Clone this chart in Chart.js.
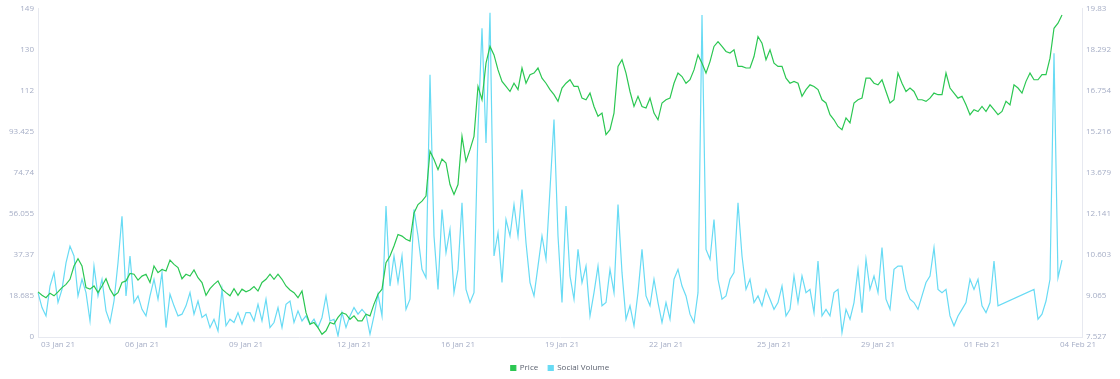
<!DOCTYPE html>
<html>
<head>
<meta charset="utf-8">
<script src="https://cdn.jsdelivr.net/npm/chart.js@4"></script>
<style>
  html, body { margin: 0; padding: 0; background: #fff; }
  canvas { display: block; }
</style>
</head>
<body>
<canvas id="chart" width="1120" height="379"></canvas>
<script>
/* ==============================
   DATA
============================== */

// x axis: one slot per sample, a few spare slots after the last one
const slotCount = 262;
const tickLabels = ["03 Jan 21", "06 Jan 21", "09 Jan 21", "12 Jan 21", "16 Jan 21", "19 Jan 21",
                    "22 Jan 21", "25 Jan 21", "29 Jan 21", "01 Feb 21", "04 Feb 21"];
const tickIndex = [5, 26, 52, 79, 105, 131, 157, 184, 210, 236, 260];

// left axis (social volume)
const leftTicks = [0, 18.685, 37.37, 56.055, 74.74, 93.425, 112.11, 130.795, 149.48];
const leftTickLabels = ["0", "18.685", "37.37", "56.055", "74.74", "93.425", "112", "130", "149"];

// right axis (price)
const rightTicks = [7.527, 9.065, 10.603, 12.141, 13.679, 15.216, 16.754, 18.292, 19.83];
const rightTickLabels = ["7.527", "9.065", "10.603", "12.141", "13.679", "15.216", "16.754", "18.292", "19.83"];

const price = [
    9.22, 9.09, 9.00, 9.17, 9.07, 9.22, 9.38, 9.50, 9.69, 10.19, 10.46, 10.19, 9.38, 9.32, 9.44, 9.19,
    9.44, 9.71, 9.32, 9.07, 9.19, 9.57, 9.63, 9.91, 9.88, 9.66, 9.81, 9.88, 9.57, 10.19, 9.94, 10.06,
    10.00, 10.41, 10.25, 10.13, 9.71, 9.88, 9.81, 10.04, 9.75, 9.57, 9.09, 9.34, 9.50, 9.63, 9.32, 9.19,
    9.07, 9.34, 9.09, 9.32, 9.22,
    9.29, 9.42, 9.25, 9.57, 9.69, 9.88, 9.69, 9.88, 9.69, 9.44, 9.29, 9.19, 9.00, 9.25, 8.44, 8.01,
    8.07, 7.88, 7.63, 7.76, 8.07, 8.01, 8.26, 8.44, 8.38, 8.19, 8.32, 8.13, 8.13, 8.38, 8.32, 8.76,
    9.13, 9.32, 10.31, 10.56, 10.94, 11.37, 11.31, 11.19, 11.12, 12.18, 12.49, 12.62, 12.81, 14.49, 14.18, 13.80,
    14.20, 14.05, 13.24, 12.87,
    13.24, 15.05, 14.11, 14.55, 15.05, 16.92, 16.42, 17.79, 18.42, 18.10, 17.54, 17.11, 16.92, 16.73, 17.04, 16.80,
    17.61, 17.04, 17.36, 17.42, 17.61, 17.23, 17.04, 16.80, 16.61, 16.36, 16.86, 17.04, 17.17, 16.92, 16.92, 16.48,
    16.42, 16.67, 16.17, 15.80, 15.92, 15.11, 15.30, 15.92, 17.67, 17.92, 17.42, 16.73, 16.17, 16.55, 16.17, 16.11,
    16.48, 15.92, 15.67, 16.30, 16.42,
    16.48, 17.04, 17.42, 17.29, 17.04, 17.17, 17.54, 18.10, 17.79, 17.42, 17.85, 18.42, 18.60, 18.42, 18.23, 18.17,
    18.29, 17.67, 17.67, 17.61, 17.61, 18.04, 18.79, 18.54, 17.92, 18.29, 17.79, 17.67, 17.67, 17.23, 17.04, 17.11,
    17.04, 16.55, 16.80, 16.98, 16.92, 16.80, 16.42, 16.30, 15.86, 15.67, 15.42, 15.30, 15.74, 15.55, 16.30, 16.42,
    16.48, 17.23, 17.23, 17.04,
    16.98, 17.17, 16.73, 16.30, 16.42, 17.42, 17.04, 16.73, 16.86, 16.73, 16.42, 16.42, 16.36, 16.48, 16.67, 16.61,
    16.61, 17.42, 16.86, 16.67, 16.48, 16.55, 16.23, 15.86, 16.05, 15.98, 16.17, 15.98, 16.23, 16.05, 15.86, 15.98,
    16.36, 16.23, 16.98, 16.86, 16.67, 17.11, 17.42, 17.17, 17.17, 17.36, 17.36, 17.98, 19.10, 19.29, 19.60
];

// null = no data (the line is drawn straight across)
const socialVolume = [
    20.2, 13.4, 9.6, 23.2, 29.3, 15.7, 21.7, 33.8, 41.4, 36.9, 18.7, 26.3, 20.2, 7.3, 32.3, 18.7,
    26.3, 11.9, 6.6, 16.4, 33.8, 55.0, 18.7, 36.9, 15.7, 18.7, 12.6, 9.6, 18.7, 26.3, 17.2, 29.3,
    4.3, 19.5, 14.2, 9.6, 10.4, 14.2, 20.2, 10.4, 16.4, 8.9, 10.4, 4.3, 8.1, 2.8, 21.7, 5.1,
    8.1, 6.6, 11.1, 5.8, 11.1,
    11.1, 7.3, 14.9, 7.3, 17.2, 4.3, 6.6, 13.4, 4.3, 14.9, 16.4, 6.6, 11.9, 7.3, 9.6, 5.8,
    8.1, 4.3, 8.9, 18.7, 7.3, 8.1, 0.5, 11.1, 4.3, 9.6, 13.4, 10.4, 12.6, 10.4, 1.3, 9.6,
    19.5, 9.6, 59.6, 23.2, 36.9, 24.8, 36.9, 12.6, 17.2, 58.1, 46.0, 30.8, 27.0, 119.4, 46.0, 21.7,
    58.1, 38.4, 49.0, 20.2,
    30.8, 61.1, 21.7, 15.7, 20.2, 94.4, 140.6, 88.4, 147.7, 36.9, 47.5, 24.8, 53.5, 46.0, 60.3, 46.0,
    67.2, 42.9, 24.8, 18.7, 32.3, 46.0, 35.4, 67.2, 99.0, 46.0, 15.7, 59.6, 27.8, 17.2, 39.9, 24.8,
    32.3, 9.6, 20.2, 32.3, 14.2, 15.7, 30.8, 20.2, 60.3, 29.3, 8.1, 14.2, 5.1, 20.2, 39.9, 18.7,
    14.2, 26.3, 15.7, 6.6, 15.7,
    8.1, 26.3, 30.8, 23.2, 18.7, 10.4, 6.6, 20.2, 146.7, 39.9, 35.4, 53.5, 26.3, 17.2, 18.7, 26.3,
    29.3, 61.1, 36.9, 21.7, 26.3, 15.7, 18.7, 14.2, 21.7, 17.2, 12.6, 15.7, 23.2, 9.6, 12.6, 27.8,
    15.7, 27.8, 20.2, 21.7, 11.1, 34.6, 9.6, 12.6, 9.6, 20.2, 21.7, 2.0, 12.6, 8.1, 15.7, 30.8,
    11.1, 35.4, 21.7, 27.8,
    20.2, 40.7, 17.2, 12.6, 30.8, 32.3, 32.3, 21.7, 17.2, 15.7, 12.6, 18.7, 24.8, 27.8, 40.7, 21.7,
    20.2, 21.7, 9.6, 5.1, 9.6, 12.6, 15.7, 26.3, 21.7, 26.3, 14.2, 11.1, 15.7, 34.6, 14.2,
    null, null, null, null, null, null, null, null,
    21.7, 8.1, 10.4, 16.4, 26.3, 129.2, 27.0, 35.0
];

/* ==============================
   LABELS
============================== */

const labels = [];
for (let i = 0; i < slotCount; i++) {
    const k = tickIndex.indexOf(i);
    labels.push(k >= 0 ? tickLabels[k] : "");
}

const tickFont = { family: "'Open Sans', sans-serif", size: 8 };
const tickColor = "#a6aec6";
const axisColor = "#e7e9f0";

/* ==============================
   CHART
============================== */

new Chart(document.getElementById("chart"), {
    type: "line",
    data: {
        labels: labels,
        datasets: [
            {
                label: "Price",
                data: price,
                yAxisID: "yPrice",
                borderColor: "#2bc752",
                backgroundColor: "#2bc752",
                borderWidth: 1.2,
                pointRadius: 0,
                tension: 0
            },
            {
                label: "Social Volume",
                data: socialVolume,
                yAxisID: "yVolume",
                borderColor: "#68dbf4",
                backgroundColor: "#68dbf4",
                borderWidth: 1.2,
                pointRadius: 0,
                tension: 0,
                spanGaps: true
            }
        ]
    },
    options: {
        responsive: false,
        animation: false,
        layout: { padding: { top: 0, bottom: -3, left: 0, right: 0 } },
        plugins: {
            legend: {
                position: "bottom",
                labels: {
                    boxWidth: 5,
                    boxHeight: 5,
                    padding: 10,
                    color: "#5c6270",
                    font: { family: "'Open Sans', sans-serif", size: 8 }
                }
            },
            tooltip: { enabled: false }
        },
        scales: {
            x: {
                grid: { display: false, drawTicks: false },
                border: { display: true, color: axisColor },
                ticks: {
                    autoSkip: false,
                    maxRotation: 0,
                    minRotation: 0,
                    padding: 3,
                    color: tickColor,
                    font: tickFont
                },
                afterFit: scale => { scale.height = 17; }
            },
            yVolume: {
                position: "left",
                min: 0,
                max: 149.48,
                grid: { display: false, drawTicks: false },
                border: { display: true, color: axisColor },
                afterBuildTicks: scale => { scale.ticks = leftTicks.map(v => ({ value: v })); },
                ticks: {
                    padding: 4,
                    color: tickColor,
                    font: tickFont,
                    callback: (v, i) => leftTickLabels[i]
                },
                afterFit: scale => { scale.width = 38; }
            },
            yPrice: {
                position: "right",
                min: 7.527,
                max: 19.83,
                grid: { display: false, drawTicks: false },
                border: { display: true, color: axisColor },
                afterBuildTicks: scale => { scale.ticks = rightTicks.map(v => ({ value: v })); },
                ticks: {
                    padding: 4,
                    color: tickColor,
                    font: tickFont,
                    callback: (v, i) => rightTickLabels[i]
                },
                afterFit: scale => { scale.width = 38; }
            }
        }
    }
});
</script>
</body>
</html>
